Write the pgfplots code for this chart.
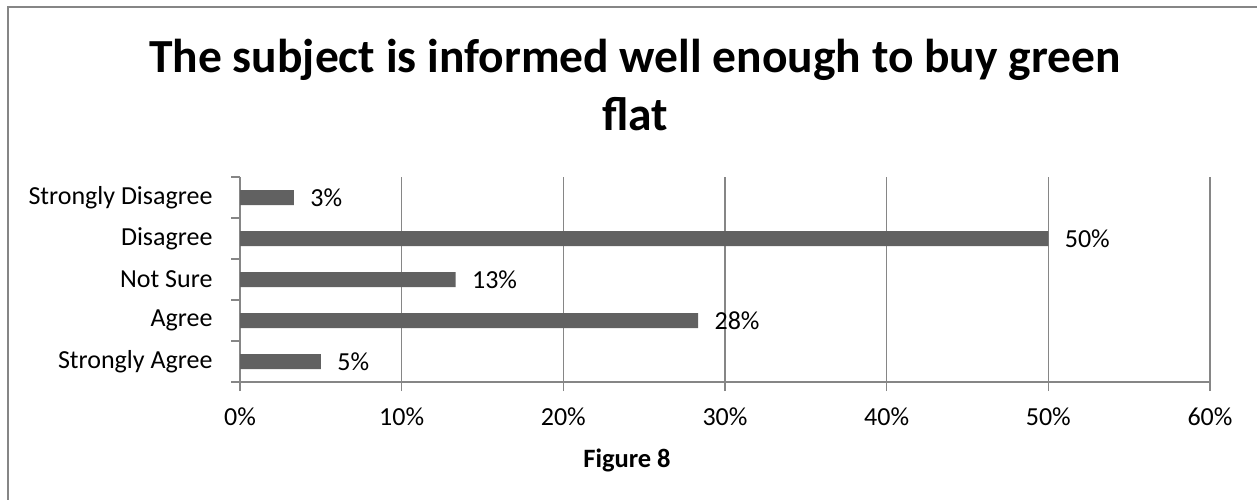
\documentclass[border=0pt]{standalone}
\usepackage{fontspec}
\setmainfont{Carlito}
\usepackage{pgfplots}
\pgfplotsset{compat=1.18}
\definecolor{gridgray}{HTML}{868686}
\definecolor{bargray}{HTML}{616161}
\begin{document}
\begin{tikzpicture}
\path[use as bounding box] (0,0) rectangle (1257pt,-500pt);
\begin{scope}
  \clip (0,0) rectangle (1257pt,-500pt);
  \draw[gridgray, line width=1.8pt] (8pt,-7pt) rectangle (1262pt,-540pt);
\end{scope}
\node[anchor=base, inner sep=0pt, font=\fontsize{47.5}{57}\selectfont\bfseries]
  at (635pt,-73pt) {The subject is informed well enough to buy green};
\node[anchor=base, inner sep=0pt, font=\fontsize{47.5}{57}\selectfont\bfseries]
  at (635pt,-130pt) {flat};
\node[anchor=base, inner sep=0pt, font=\fontsize{26.5}{32}\selectfont\bfseries]
  at (627pt,-467pt) {Figure 8};
\begin{axis}[
  at={(240pt,-382pt)}, anchor=south west,
  scale only axis, width=970pt, height=205pt,
  xmin=0, xmax=60, ymin=-0.5, ymax=4.5,
  xbar, bar width=15pt,
  axis x line*=bottom, axis y line*=left,
  axis line style={gridgray, line width=1.5pt, -},
  tick align=outside, major tick length=9pt,
  tick style={gridgray, line width=1.5pt},
  xmajorgrids, grid style={gridgray, line width=1.5pt},
  xtick={0,10,...,60},
  xticklabels={0\%,10\%,20\%,30\%,40\%,50\%,60\%},
  x tick label style={yshift=-13pt},
  % category boundaries carry the ticks, category centres carry the names
  ytick={-0.5,0.5,...,4.5},
  yticklabels={,,,,,},
  extra y ticks={0,1,2,3,4},
  extra y tick labels={Strongly Agree,Agree,Not Sure,Disagree,Strongly Disagree},
  extra y tick style={major tick length=0pt, y tick label style={xshift=-24pt}},
  ticklabel style={font=\fontsize{26}{31}\selectfont, text=black},
  /pgf/number format/assume math mode=true,
  point meta=x,
  nodes near coords={\pgfmathprintnumber[fixed,precision=0]{\pgfplotspointmeta}\%},
  nodes near coords style={font=\fontsize{26}{31}\selectfont, text=black, anchor=west, xshift=13pt},
]
\addplot[fill=bargray, draw=none] coordinates {
  (5.000,0) (28.333,1) (13.333,2) (50.000,3) (3.333,4)
};
\end{axis}
\end{tikzpicture}
\end{document}
